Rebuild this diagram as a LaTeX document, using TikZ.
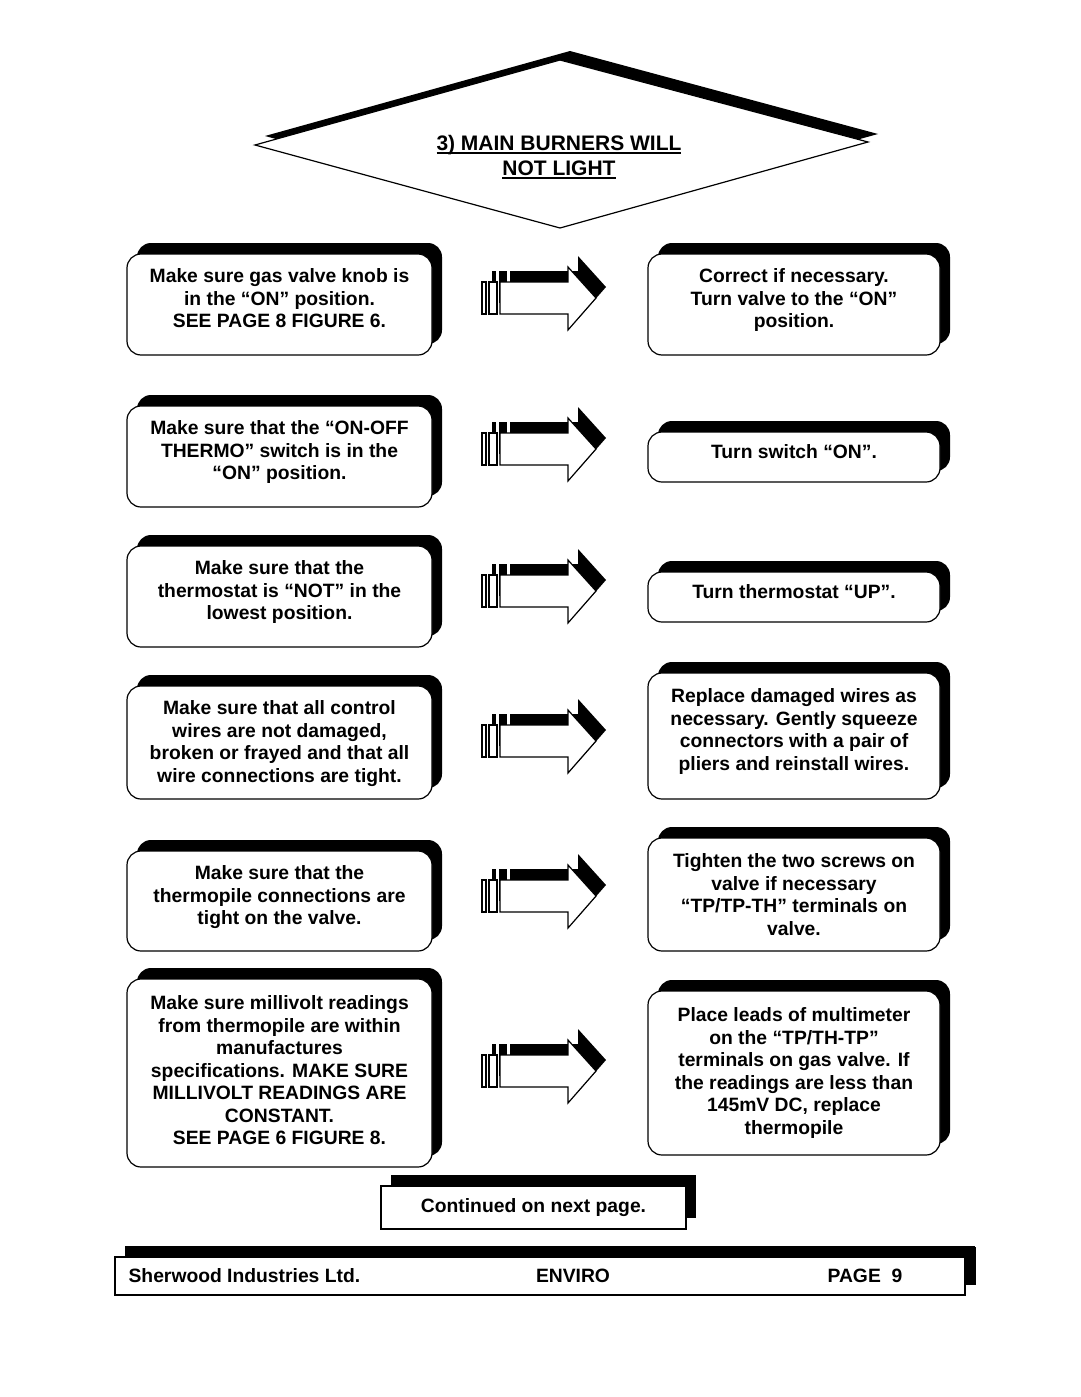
\documentclass[tikz,border=0pt]{standalone}
\usepackage{fontspec}
\setmainfont{Liberation Sans}
\usetikzlibrary{positioning, shadows}

\newcommand\thickul[1]{\setbox0\hbox{#1}\rlap{\raisebox{-3.5pt}{\rule{\wd0}{1.8pt}}}\box0}

\tikzset{
  pics/flowarrow/.style={code={
    % black copy, up and to the right
    \begin{scope}[shift={(10,-11)}]
      \fill (-114,-16) rectangle (-110,16);
      \fill (-107,-16) rectangle (-99,16);
      \fill (-96,-16) -- (-28,-16) -- (-28,-31) -- (0,0) -- (-28,32) -- (-28,16) -- (-96,16) -- cycle;
    \end{scope}
    % white arrow on top
    \filldraw[fill=white] (-114,-16) rectangle (-110,16);
    \filldraw[fill=white] (-107,-16) rectangle (-99,16);
    \filldraw[fill=white] (-96,-16) -- (-28,-16) -- (-28,-31) -- (0,0) -- (-28,32) -- (-28,16) -- (-96,16) -- cycle;
  }}
}

\begin{document}
\begin{tikzpicture}[x=1pt, y=-1pt, line width=1.2pt,
    every node/.style={font=\bfseries\fontsize{19.3}{22.5}\selectfont},
    stepbox/.style={draw, fill=white, rounded corners=14pt, inner sep=0pt,
      general shadow={fill=black, shadow xshift=10pt, shadow yshift=11pt}},
    flatbox/.style={stepbox, sharp corners},
    steptext/.style={align=center, inner sep=0pt}]
    \path[use as bounding box, fill=white] (0,0) rectangle (1080,1397);

    % Title diamond
    \fill (265,136) -- (570,51) -- (878,134) -- (570,219) -- cycle;
    \filldraw[fill=white] (255,145) -- (560,60) -- (868,142) -- (560,228) -- cycle;
    \node[steptext, font=\bfseries\fontsize{21}{25}\selectfont] (title) at (559,157)
      {\thickul{3) MAIN BURNERS WILL}\\\thickul{NOT LIGHT}};

    % Checks (left)
    \node[stepbox, minimum width=305pt, minimum height=101pt] (chk1) at (279.5,304.5) {};
    \node[steptext, below=15pt of chk1.north] (chk1txt)
      {Make sure gas valve knob is\\in the “ON” position.\\SEE PAGE 8 FIGURE 6.};
    \node[stepbox, minimum width=305pt, minimum height=101pt] (chk2) at (279.5,456.5) {};
    \node[steptext, below=15pt of chk2.north] (chk2txt)
      {Make sure that the “ON-OFF\\THERMO” switch is in the\\“ON” position.};
    \node[stepbox, minimum width=305pt, minimum height=101pt] (chk3) at (279.5,596.5) {};
    \node[steptext, below=15pt of chk3.north] (chk3txt)
      {Make sure that the\\thermostat is “NOT” in the\\lowest position.};
    \node[stepbox, minimum width=305pt, minimum height=113pt] (chk4) at (279.5,742.5) {};
    \node[steptext, below=15pt of chk4.north] (chk4txt)
      {Make sure that all control\\wires are not damaged,\\broken or frayed and that all\\wire connections are tight.};
    \node[stepbox, minimum width=305pt, minimum height=100pt] (chk5) at (279.5,901) {};
    \node[steptext, below=15pt of chk5.north] (chk5txt)
      {Make sure that the\\thermopile connections are\\tight on the valve.};
    \node[stepbox, minimum width=305pt, minimum height=188pt] (chk6) at (279.5,1073) {};
    \node[steptext, below=17pt of chk6.north] (chk6txt)
      {Make sure millivolt readings\\from thermopile are within\\manufactures\\specifications. MAKE SURE\\MILLIVOLT READINGS ARE\\CONSTANT.\\SEE PAGE 6 FIGURE 8.};

    % Fixes (right)
    \node[stepbox, minimum width=292pt, minimum height=101pt] (fix1) at (794,304.5) {};
    \node[steptext, below=15pt of fix1.north] (fix1txt)
      {Correct if necessary.\\Turn valve to the “ON”\\position.};
    \node[stepbox, minimum width=292pt, minimum height=50pt] (fix2) at (794,457) {};
    \node[steptext, below=13pt of fix2.north] (fix2txt) {Turn switch “ON”.};
    \node[stepbox, minimum width=292pt, minimum height=50pt] (fix3) at (794,597) {};
    \node[steptext, below=13pt of fix3.north] (fix3txt) {Turn thermostat “UP”.};
    \node[stepbox, minimum width=292pt, minimum height=126pt] (fix4) at (794,736) {};
    \node[steptext, below=16pt of fix4.north] (fix4txt)
      {Replace damaged wires as\\necessary. Gently squeeze\\connectors with a pair of\\pliers and reinstall wires.};
    \node[stepbox, minimum width=292pt, minimum height=113pt] (fix5) at (794,894.5) {};
    \node[steptext, below=16pt of fix5.north] (fix5txt)
      {Tighten the two screws on\\valve if necessary\\“TP/TP-TH” terminals on\\valve.};
    \node[stepbox, minimum width=292pt, minimum height=164pt] (fix6) at (794,1073) {};
    \node[steptext, below=17pt of fix6.north] (fix6txt)
      {Place leads of multimeter\\on the “TP/TH-TP”\\terminals on gas valve. If\\the readings are less than\\145mV DC, replace\\thermopile};

    % Block arrows
    \foreach \ty in {298,449,591,741,896,1071}
      \pic at (596,\ty) {flowarrow};

    % Continued
    \node[flatbox, minimum width=305pt, minimum height=43pt] (cont) at (533.5,1207.5) {};
    \node[steptext] (conttxt) at (cont.center) {Continued on next page.};

    % Footer
    \node[flatbox, minimum width=850pt, minimum height=38pt,
      general shadow={fill=black, shadow xshift=11pt, shadow yshift=10pt}] (foot) at (540,1276) {};
    \node[steptext, anchor=west] (company) at (128,1276) {Sherwood Industries Ltd.};
    \node[steptext] (product) at (573,1276) {ENVIRO};
    \node[steptext, anchor=west] (page) at (827,1276) {PAGE\ \ 9};
\end{tikzpicture}
\end{document}
